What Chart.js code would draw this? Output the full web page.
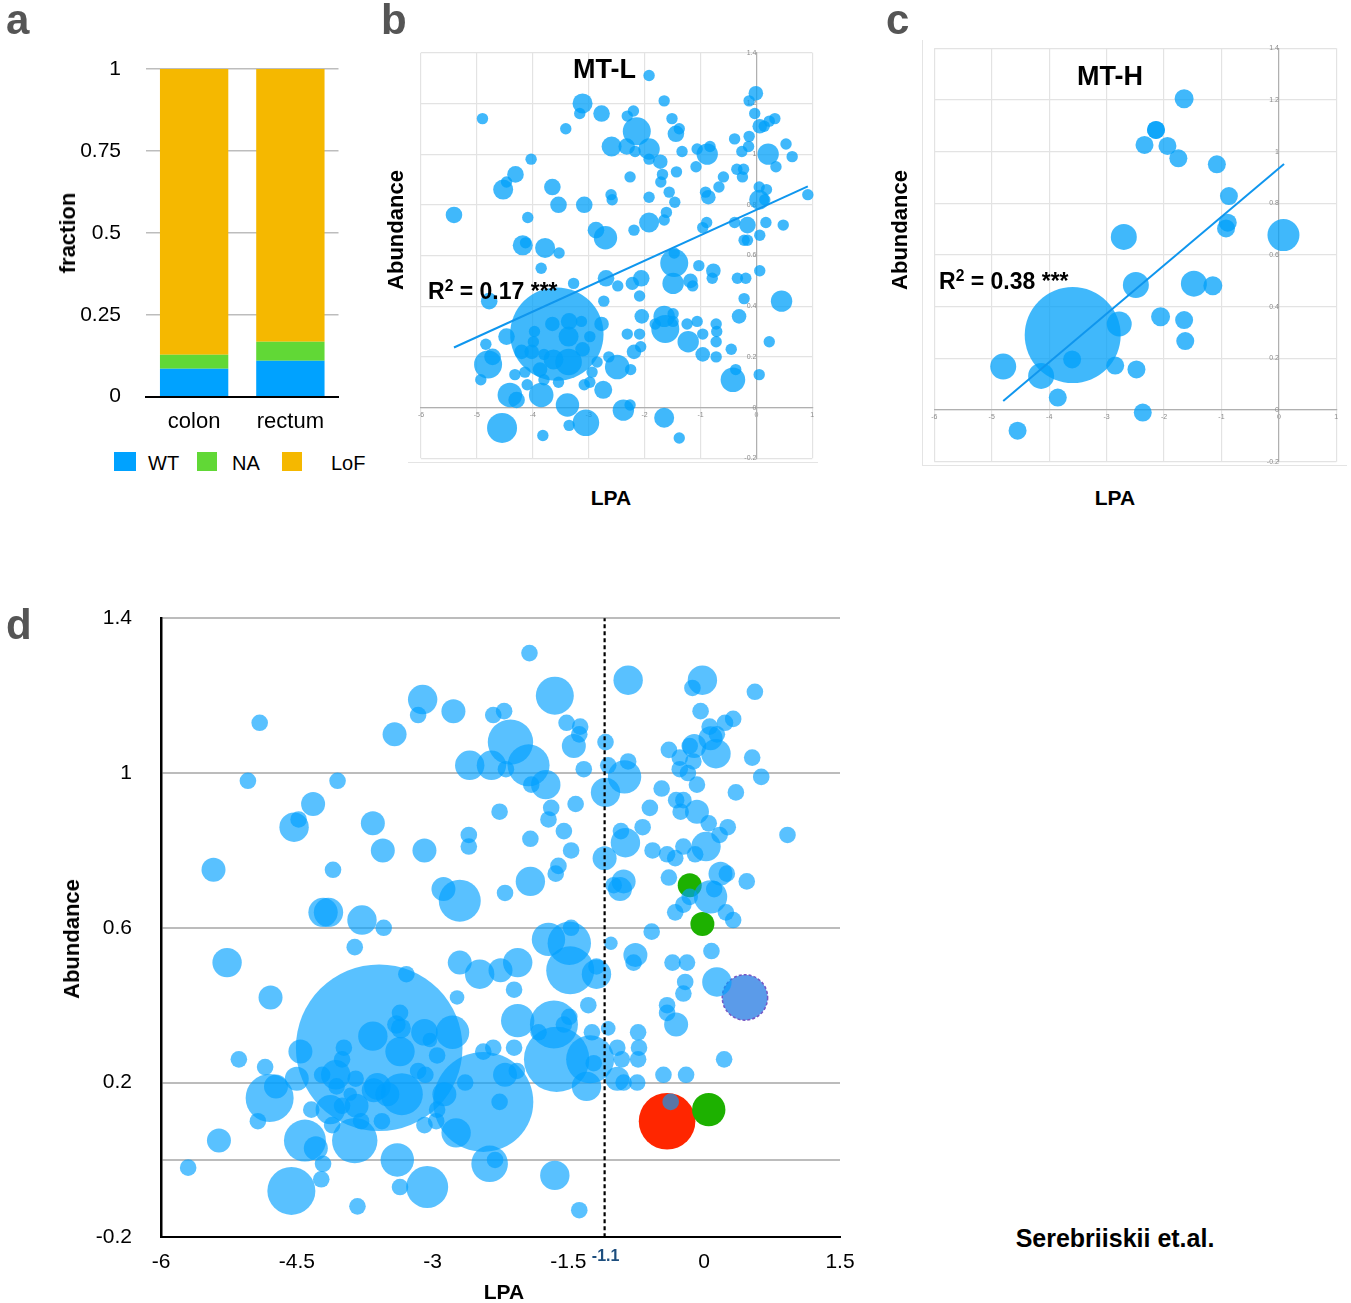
<!DOCTYPE html>
<html><head><meta charset="utf-8">
<script src="https://cdn.jsdelivr.net/npm/chart.js@4.4.1/dist/chart.umd.min.js"></script>
<style>
html,body{margin:0;padding:0;background:#fff;}
#page{position:relative;width:1351px;height:1303px;overflow:hidden;font-family:'Liberation Sans',Arial,Helvetica,sans-serif;color:#000;}
canvas{position:absolute;}
.t{position:absolute;white-space:nowrap;line-height:1;}
.c{transform:translate(-50%,-50%);}
.v{transform:translate(-50%,-50%) rotate(-90deg);}
.b{font-weight:bold;}
.panel{font-weight:bold;font-size:42px;color:#555;}
.sq{position:absolute;height:19px;}
.hl{position:absolute;background:#e4e4e4;}
sup{font-size:0.68em;line-height:0;vertical-align:0.5em;}
</style></head>
<body><div id="page">
<canvas id="ca" width="380" height="440" style="left:0;top:0"></canvas>
<canvas id="cb" width="460" height="480" style="left:380px;top:0"></canvas>
<canvas id="cc" width="471" height="480" style="left:880px;top:0"></canvas>
<canvas id="cd" width="880" height="733" style="left:0;top:570px"></canvas>

<div class="hl" style="left:408px;top:462px;width:410px;height:1px"></div>
<div class="hl" style="left:922px;top:40px;width:1px;height:425px"></div>
<div class="hl" style="left:922px;top:465px;width:425px;height:1px"></div>

<div class="t panel" style="left:6px;top:-1px">a</div>
<div class="t panel" style="left:381px;top:-1px">b</div>
<div class="t panel" style="left:886px;top:-1px">c</div>
<div class="t panel" style="left:6px;top:604px">d</div>

<div class="t v b" style="left:68px;top:233px;font-size:22px">fraction</div>
<div class="sq" style="left:114px;top:452px;width:22px;background:#00a2ff"></div>
<div class="sq" style="left:197px;top:452px;width:20px;background:#61d836"></div>
<div class="sq" style="left:282px;top:452px;width:20px;background:#f5b800"></div>
<div class="t" style="left:148px;top:453px;font-size:20px">WT</div>
<div class="t" style="left:232px;top:453px;font-size:20px">NA</div>
<div class="t" style="left:331px;top:453px;font-size:20px">LoF</div>

<div class="t b" style="left:573px;top:56px;font-size:27px">MT-L</div>
<div class="t b" style="left:1077px;top:63px;font-size:27px">MT-H</div>
<div class="t b" style="left:428px;top:280px;font-size:23px">R<sup>2</sup> = 0.17 ***</div>
<div class="t b" style="left:939px;top:270px;font-size:23px">R<sup>2</sup> = 0.38 ***</div>
<div class="t v b" style="left:396px;top:230px;font-size:22px">Abundance</div>
<div class="t v b" style="left:900px;top:230px;font-size:22px">Abundance</div>
<div class="t c b" style="left:611px;top:497px;font-size:21px">LPA</div>
<div class="t c b" style="left:1115px;top:497px;font-size:21px">LPA</div>

<div class="t v b" style="left:72px;top:939px;font-size:22px">Abundance</div>
<div class="t c b" style="left:504px;top:1291px;font-size:21px">LPA</div>
<div class="t c b" style="left:1115px;top:1238px;font-size:25px">Serebriiskii et.al.</div>
<div id="thr" class="t c b" style="font-size:16px;color:#1d4e7e">-1.1</div>
</div>
<script>
// ---------- panel a ----------
const aCategories = ['colon', 'rectum'];
const aWT  = [0.085, 0.110];
const aNA  = [0.043, 0.058];
const aLoF = [0.872, 0.832];
const aYTicks = [0, 0.25, 0.5, 0.75, 1];

// ---------- panel b (MT-L) ----------
const bX = [
 -1.92,-0.01,-0.13,-3.11,-3.16,-2.77,-1.65,-4.90,-3.41,-2.20,
 -2.31,-2.14,-1.51,-1.38,-1.44,-2.59,-2.32,-2.17,-1.92,-1.92,
 -1.72,-1.33,-1.06,-0.83,-0.88,-1.08,-0.39,-0.26,-0.14,-0.13,
 -0.03,0.06,0.14,0.23,0.33,0.21,0.53,0.64,0.35,-0.35,
 -0.23,-0.25,0.05,0.05,0.18,0.15,0.92,0.17,0.48,-0.16,
 -0.39,-0.22,-0.16,0.06,-0.59,-0.67,-0.91,-0.86,-0.96,-0.89,
 -1.03,-0.77,-0.79,-0.34,-0.19,0.06,-0.22,-0.31,0.45,0.23,
 -0.45,-0.37,-0.42,0.05,-0.72,-0.71,-0.72,-0.96,-0.96,-0.72,
 -1.06,-1.24,-1.22,-1.63,-1.65,-1.49,-1.49,-1.81,-1.47,-1.47,
 -1.49,-1.18,-1.14,-2.06,-2.22,-2.09,-2.05,-2.31,-2.09,-2.19,
 -2.07,-2.49,-2.25,-2.64,-2.73,-2.69,-2.48,-2.77,-2.74,-2.38,
 -2.26,-2.85,-2.94,-2.98,-3.08,-3.05,-3.38,-3.35,-3.82,-4.55,
 -1.65,-1.38,-3.85,-4.41,-4.29,-3.54,-4.10,-3.80,-4.32,-4.14,
 -4.93,-4.80,-4.72,-4.84,-4.47,-3.57,-3.97,-3.99,-4.20,-4.02,
 -3.80,-3.87,-3.65,-3.35,-3.36,-3.13,-2.98,-3.11,-3.63,-3.36,
 -3.27,-4.78,-3.85,-3.78,-3.53,-4.18,-4.13,-5.41,-4.09,-3.54,
 -3.08,-3.65,-4.53,-4.47,-4.31,-4.03,-2.87,-2.70,-2.60,-2.58,
 -2.19,-1.92,-1.65,-1.61,-1.92,-2.26,-1.68,-1.71,-1.43,-1.56,
 -1.46];
const bY = [
 1.31,1.24,1.21,1.20,1.16,1.16,1.21,1.14,1.10,1.17,
 1.15,1.09,1.14,1.10,1.08,1.03,1.03,1.01,1.02,0.98,
 0.97,1.01,1.02,1.03,1.00,0.95,1.06,1.01,1.03,1.07,
 1.16,1.11,1.11,1.13,1.14,1.00,1.04,0.99,0.95,0.94,
 0.94,0.91,0.87,0.82,0.86,0.82,0.84,0.73,0.72,0.72,
 0.73,0.66,0.66,0.68,0.91,0.87,0.85,0.83,0.71,0.73,
 0.56,0.54,0.51,0.51,0.51,0.54,0.43,0.36,0.42,0.26,
 0.23,0.15,0.11,0.13,0.33,0.30,0.26,0.29,0.21,0.20,
 0.34,0.33,0.26,0.31,0.36,0.37,0.34,0.33,0.57,0.61,
 0.49,0.50,0.48,0.51,0.49,0.44,0.36,0.29,0.29,0.22,
 0.24,0.16,0.15,0.20,0.42,0.51,0.48,0.33,0.07,-0.01,
 0.01,0.18,0.14,0.10,0.09,-0.06,0.01,-0.07,-0.11,-0.08,
 -0.04,-0.12,0.05,0.05,0.03,0.10,0.09,0.11,0.13,0.14,
 0.11,0.17,0.20,0.25,0.28,0.29,0.30,0.26,0.22,0.22,
 0.21,0.15,0.33,0.34,0.28,0.34,0.28,0.23,0.19,0.18,
 0.49,0.42,0.55,0.63,0.61,0.64,0.65,0.76,0.75,0.80,
 0.80,0.87,0.86,0.89,0.92,0.98,0.70,0.67,0.84,0.82,
 0.70,0.73,0.74,0.77,0.83,0.91,0.92,0.89,0.93,0.85,
 0.81];
const bR = [
 5.7,7.3,5.7,10,5.7,8.3,5.7,5.7,5.7,5.7,
 5.7,14,5.7,5.7,8.3,10,8.3,5.7,10.7,5.7,
 7.3,5.7,5.7,5.7,10.7,5.7,5.7,5.7,5.7,5.7,
 5.7,7.3,5.7,5.7,5.7,10.7,5.7,5.7,5.7,5.7,
 5.7,5.7,5.7,10,5.7,5.7,5.7,5.7,5.7,8.3,
 5.7,5.7,5.7,5.7,5.7,5.7,5.7,7.3,5.7,5.7,
 5.7,7.3,5.7,5.7,5.7,5.7,5.7,7.3,10.7,5.7,
 5.7,5.7,12.3,5.7,5.7,5.7,5.7,5.7,7.3,5.7,
 5.7,5.7,10.7,14,10.7,5.7,5.7,5.7,14,5.7,
 10.7,7.3,5.7,8.3,6.7,5.7,7.3,5.7,5.7,7.3,
 5.7,12.3,5.7,5.7,5.7,8.3,5.7,7.3,9,10.7,
 5.7,5.7,5.7,5.7,5.7,13.3,11.7,5.7,5.7,15,
 10,5.7,12.3,12.3,8.3,5.7,5.7,5.7,5.7,5.7,
 5.7,14,8.3,5.7,8.3,46.7,5.7,5.7,7.3,7.3,
 5.7,7.3,7.3,8.3,10,5.7,5.7,7.3,10,13.3,
 5.7,8.3,5.7,10,5.7,10,5.7,8.3,5.7,8.3,
 8.3,8.3,10,5.7,8.3,5.7,8.3,11.7,5.7,5.7,
 5.7,10,5.7,5.7,5.7,5.7,5.7,5.7,5.7,5.7,
 5.7];
const bTrendX = [-5.41, 0.92];
const bTrendY = [0.237, 0.873];

// ---------- panel c (MT-H) ----------
const cX = [-1.65,-2.14,-2.14,-2.34,-1.94,-1.75,-1.08,-0.87,-0.89,-0.92,
            -2.70,0.08,-2.49,-1.48,-1.15,-3.59,-2.78,-2.06,-1.65,-1.63,
            -3.60,-4.80,-4.14,-2.85,-2.48,-3.85,-2.37,-4.55];
const cY = [1.205,1.084,1.084,1.026,1.022,0.974,0.951,0.828,0.725,0.703,
            0.670,0.677,0.484,0.489,0.481,0.290,0.333,0.361,0.348,0.267,
            0.196,0.168,0.132,0.172,0.157,0.048,-0.010,-0.080];
const cR = [9.5,9,9,9,9,9,9,9,9,9,
            13,16,13,13,9.5,48,12.5,9.5,9,9,
            9,13,13,9,9,9,9,9];
const cTrendX = [-4.80, 0.09];
const cTrendY = [0.035, 0.952];

// shared small-panel ticks
const smallXTicks = [-6,-5,-4,-3,-2,-1,0,1];
const smallYTicks = [-0.2,0,0.2,0.4,0.6,0.8,1,1.2,1.4];

// ---------- panel d ----------
const dX = [
 -1.93,-1.65,-0.84,-0.02,-0.13,0.56,-4.91,-3.11,-3.16,-2.77,
 -2.33,-2.21,-2.14,-3.42,-1.52,-1.37,-1.38,-1.44,-1.09,-0.04,
 0.32,0.23,0.06,0.14,0.07,-0.11,-0.16,0.13,-0.39,-0.27,
 -0.12,0.53,-2.59,-2.35,-2.19,-1.94,-1.91,-1.75,-1.33,-1.06,
 -0.84,-0.88,-1.09,-0.27,-0.18,-0.08,0.63,-0.47,0.35,-5.04,
 -4.05,-4.32,-4.53,-4.48,-3.66,-3.55,-3.09,-2.60,-2.60,-2.26,
 -1.69,-1.72,-1.42,-0.60,-0.31,-0.23,-0.26,-0.08,-0.68,-0.92,
 -0.87,0.05,0.26,0.17,0.02,0.92,-1.92,-1.55,-1.47,-0.57,
 -0.41,-0.32,-0.23,-0.10,-1.10,-1.61,-1.64,-1.92,-2.20,-5.42,
 -4.10,-2.88,-2.70,-4.21,-4.15,-3.78,-3.54,-0.89,-0.93,-1.00,
 -0.39,-0.16,0.07,0.18,0.25,0.11,0.47,-0.32,-0.23,0.24,
 0.32,-0.58,-1.03,-0.76,-0.78,-1.72,-1.49,-1.48,-1.47,-1.19,
 -1.19,-2.70,-2.48,-2.25,-2.06,-2.10,-2.73,-1.28,-2.06,-1.66,
 -1.49,-1.63,-1.83,-1.55,-1.24,-1.06,-1.26,-1.30,-1.22,-0.96,
 -0.91,-0.96,-0.89,-0.74,-0.73,-0.72,-0.73,-0.45,-0.20,0.22,
 -0.41,-0.41,-0.31,-0.35,-0.19,-0.21,-0.23,0.08,0.14,-0.37,
 -2.64,-2.26,-2.20,-2.44,-2.33,-2.10,-2.07,-2.37,-2.31,-2.74,
 -1.65,-1.38,-3.86,-5.27,-4.79,-3.29,-3.59,-3.36,-3.40,-3.35,
 -3.66,-3.09,-2.78,-3.03,-3.36,-2.95,-3.98,-4.00,-4.46,-5.14,
 -4.85,-3.16,-3.08,-2.44,-4.22,-4.07,-3.85,-4.50,-4.73,-4.80,
 -3.61,-3.65,-3.34,-3.50,-4.06,-3.91,-3.84,-4.13,-4.34,-4.00,
 -4.93,-4.11,-3.79,-3.56,-3.09,-2.96,-2.95,-2.87,-5.36,-4.41,
 -4.29,-4.21,-3.86,-3.39,-5.70,-4.23,-4.56,-3.36,-3.06,-3.83];
const dY = [
 1.31,1.20,1.24,1.24,1.22,1.21,1.13,1.19,1.15,1.16,
 1.15,1.16,1.08,1.10,1.13,1.12,1.10,1.07,1.08,1.16,
 1.14,1.13,1.12,1.10,1.09,1.07,1.07,1.05,1.06,1.04,
 1.03,1.04,1.02,1.02,1.01,1.02,0.97,0.97,1.01,1.02,
 1.03,0.99,0.95,1.01,1.00,0.97,0.99,0.96,0.95,0.98,
 0.98,0.92,0.86,0.88,0.87,0.80,0.80,0.84,0.81,0.90,
 0.91,0.88,0.92,0.91,0.93,0.93,0.90,0.90,0.86,0.85,
 0.82,0.87,0.86,0.84,0.81,0.84,0.83,0.85,0.80,0.80,
 0.79,0.78,0.81,0.79,0.78,0.76,0.74,0.72,0.69,0.75,
 0.75,0.70,0.67,0.64,0.64,0.62,0.60,0.72,0.70,0.71,
 0.73,0.68,0.68,0.74,0.74,0.70,0.72,0.64,0.66,0.64,
 0.62,0.59,0.56,0.53,0.51,0.57,0.56,0.49,0.60,0.48,
 0.50,0.51,0.48,0.49,0.51,0.44,0.42,0.40,0.36,0.35,
 0.37,0.26,0.33,0.35,0.33,0.34,0.26,0.19,0.25,0.29,
 0.26,0.21,0.20,0.20,0.33,0.29,0.26,0.22,0.22,0.26,
 0.40,0.38,0.35,0.51,0.51,0.46,0.43,0.54,0.46,0.15,
 0.20,0.15,0.22,0.28,0.29,0.29,0.23,-0.01,0.00,0.07,
 -0.04,-0.13,0.55,0.51,0.42,0.48,0.29,0.38,0.35,0.34,
 0.32,0.33,0.33,0.31,0.28,0.27,0.29,0.26,0.28,0.26,
 0.24,0.23,0.22,0.15,0.22,0.22,0.21,0.21,0.19,0.16,
 0.19,0.18,0.17,0.17,0.19,0.17,0.14,0.13,0.13,0.14,
 0.10,0.09,0.10,0.10,0.09,0.10,0.13,0.17,0.05,0.05,
 0.03,-0.01,0.05,0.00,-0.02,-0.05,-0.08,-0.07,-0.07,-0.12];
const dR = [
 8.3,19,14.7,14.7,8.3,8.3,8.3,14.7,8.3,12,
 8.3,8.3,22.7,12,8.3,8.3,8.3,12,8.3,8.3,
 8.3,8.3,8.3,8.3,12,12,8.3,14.7,8.3,8.3,
 8.3,8.3,14.7,14.7,8.3,21,8.3,14.7,8.3,8.3,
 8.3,16.7,14.7,8.3,8.3,8.3,8.3,8.3,8.3,8.3,
 8.3,12,14.7,8.3,12,12,12,8.3,8.3,8.3,
 8.3,8.3,8.3,8.3,8.3,8.3,8.3,12,8.3,8.3,
 14.7,8.3,8.3,8.3,14.7,8.3,8.3,8.3,8.3,8.3,
 8.3,8.3,8.3,8.3,12,8.3,8.3,14.7,8.3,12,
 8.3,12,21,14.7,14.7,14.7,8.3,12,12,8.3,
 8.3,8.3,16.7,12,8.3,8.3,8.3,8.3,8.3,8.3,
 8.3,8.3,6.7,12,8.3,16.7,21.7,24,8.3,14.7,
 8.3,12,14.7,12,14.7,8.3,7.3,8.3,16.7,24,
 8.3,32.7,8.3,8.3,8.3,7.3,24,14.7,8.3,8.3,
 8.3,12,8.3,8.3,8.3,8.3,8.3,8.3,8.3,8.3,
 8.3,8.3,12,8.3,8.3,8.3,8.3,8.3,14.7,8.3,
 8.3,8.3,12,8.3,8.3,8.3,8.3,18.3,8.3,14.7,
 14.7,8.3,8.3,14.7,12,8.3,83.3,8.3,9.3,10,
 14.7,13.3,16.7,7.3,14.7,8.3,8.3,8.3,12,8.3,
 8.3,8.3,8.3,50,8.3,14.7,8.3,12,12,24,
 13.3,12,21,12,8.3,6.7,12,14.7,8.3,8.3,
 8.3,8.3,8.3,8.3,8.3,8.3,8.3,12,12,21,
 12,8.3,22.7,16.7,8.3,8.3,24,8.3,21,8.3];
const dGreenX = [-0.16, -0.02, 0.05];
const dGreenY = [0.71, 0.61, 0.13];
const dGreenR = [12, 12, 16.7];
const dRedX = [-0.41];
const dRedY = [0.10];
const dRedR = [28.3];
const dMarkX = [0.45];
const dMarkY = [0.42];
const dMarkR = [22.7];
const dThreshold = -1.1;
const dXTicks = [-6, -4.5, -3, -1.5, 0, 1.5];
const dYTicks = [-0.2, 0, 0.2, 0.6, 1, 1.4];

// ---------- helpers ----------
Chart.defaults.font.family = "'Liberation Sans', Arial, Helvetica, sans-serif";
Chart.defaults.color = '#000';
const pts = (xs, ys, rs) => xs.map((x, i) => ({x: x, y: ys[i], r: rs[i]}));
const seg = (xs, ys) => xs.map((x, i) => ({x: x, y: ys[i]}));
const base = {responsive: false, animation: false, devicePixelRatio: 1, events: [],
  plugins: {legend: {display: false}, tooltip: {enabled: false}}};

// ---------- chart a ----------
new Chart(document.getElementById('ca'), {
  type: 'bar',
  data: {labels: aCategories, datasets: [
    {label: 'WT', data: aWT, backgroundColor: '#00a2ff'},
    {label: 'NA', data: aNA, backgroundColor: '#61d836'},
    {label: 'LoF', data: aLoF, backgroundColor: '#f5b800'}]},
  options: Object.assign({}, base, {
    layout: {autoPadding: false, padding: {left: 0, top: 69, right: 41.5, bottom: 0}},
    datasets: {bar: {barPercentage: 1, categoryPercentage: 0.71, borderWidth: 0}},
    scales: {
      x: {stacked: true, grid: {display: false, drawTicks: false},
          border: {display: true, color: '#000', width: 2},
          ticks: {font: {size: 22}, padding: 12, color: '#000'},
          afterFit: s => { s.height = 43.3; }},
      y: {stacked: true, min: 0, max: 1,
          afterBuildTicks: s => { s.ticks = aYTicks.map(v => ({value: v})); },
          ticks: {callback: v => String(v), font: {size: 21}, padding: 25, color: '#000'},
          grid: {color: '#bdbdbd', lineWidth: 1.5, drawTicks: false},
          border: {display: false},
          afterFit: s => { s.width = 146; }}
    }
  })
});

// ---------- charts b, c ----------
function smallPanel(id, xs, ys, rs, tx, ty, pad) {
  return new Chart(document.getElementById(id), {
    type: 'bubble',
    data: {datasets: [
      {type: 'line', data: seg(tx, ty), borderColor: '#0f96ee', borderWidth: 2,
       pointRadius: 0, fill: false, clip: false},
      {data: pts(xs, ys, rs), backgroundColor: 'rgba(0,160,250,0.75)',
       borderWidth: 0, clip: false}]},
    options: Object.assign({}, base, {
      layout: {autoPadding: false, padding: pad},
      scales: {
        x: {type: 'linear', min: smallXTicks[0], max: smallXTicks[smallXTicks.length - 1],
            position: {y: 0},
            afterBuildTicks: s => { s.ticks = smallXTicks.map(v => ({value: v})); },
            afterFit: s => { s.height = 0; },
            grid: {color: '#e3e3e3', lineWidth: 1.2, drawTicks: false},
            border: {color: '#b0b0b0', width: 1.2},
            ticks: {callback: v => String(v), font: {size: 7}, color: '#8a8a8a', padding: 3}},
        y: {type: 'linear', min: smallYTicks[0], max: smallYTicks[smallYTicks.length - 1],
            position: {x: 0},
            afterBuildTicks: s => { s.ticks = smallYTicks.map(v => ({value: v})); },
            afterFit: s => { s.width = 0; },
            grid: {color: '#e3e3e3', lineWidth: 1.2, drawTicks: false},
            border: {color: '#b0b0b0', width: 1.2},
            ticks: {callback: v => String(v), font: {size: 7}, color: '#8a8a8a', padding: 3}}
      }
    })
  });
}
smallPanel('cb', bX, bY, bR, bTrendX, bTrendY, {left: 41, right: 27.7, top: 52.7, bottom: 21.7});
smallPanel('cc', cX, cY, cR, cTrendX, cTrendY, {left: 54.3, right: 14.7, top: 48.3, bottom: 18.3});

// ---------- chart d ----------
const dashBorder = {
  id: 'dashBorder',
  beforeDatasetDraw(chart, args) {
    if (chart.data.datasets[args.index].dashedBorder) chart.ctx.setLineDash([3, 2]);
  },
  afterDatasetDraw(chart) { chart.ctx.setLineDash([]); }
};
const dTop = 570;
const chartD = new Chart(document.getElementById('cd'), {
  type: 'bubble',
  data: {datasets: [
    {type: 'line', data: [{x: dThreshold, y: dYTicks[0]}, {x: dThreshold, y: dYTicks[dYTicks.length - 1]}],
     borderColor: '#000', borderWidth: 2.2, borderDash: [4, 3], pointRadius: 0, fill: false, clip: false},
    {data: pts(dX, dY, dR), backgroundColor: 'rgba(0,160,255,0.65)', borderWidth: 0, clip: false},
    {data: pts(dGreenX, dGreenY, dGreenR), backgroundColor: '#1db100', borderWidth: 0, clip: false},
    {data: pts(dRedX, dRedY, dRedR), backgroundColor: '#ff2600', borderWidth: 0, clip: false},
    {data: pts(dMarkX, dMarkY, dMarkR), backgroundColor: '#5b9be9', borderColor: '#7557c4',
     borderWidth: 1.5, dashedBorder: true, clip: false}]},
  options: Object.assign({}, base, {
    layout: {autoPadding: false, padding: {left: 0, top: 48.3, right: 40, bottom: 0}},
    scales: {
      x: {type: 'linear', min: dXTicks[0], max: dXTicks[dXTicks.length - 1], position: 'bottom',
          afterBuildTicks: s => { s.ticks = dXTicks.map(v => ({value: v})); },
          afterFit: s => { s.height = 65.7; },
          grid: {display: false, drawTicks: false},
          border: {color: '#000', width: 2},
          ticks: {callback: v => String(v), font: {size: 21}, color: '#000', padding: 12}},
      y: {type: 'linear', min: dYTicks[0], max: dYTicks[dYTicks.length - 1], position: 'left',
          afterBuildTicks: s => { s.ticks = dYTicks.map(v => ({value: v})); },
          afterFit: s => { s.width = 161; },
          grid: {color: '#bcbcbc', lineWidth: 2, drawTicks: false},
          border: {color: '#000', width: 2.5},
          ticks: {callback: v => (v === 0 ? '' : String(v)), font: {size: 21}, color: '#000', padding: 29}}
    }
  }),
  plugins: [dashBorder]
});
const thr = document.getElementById('thr');
thr.style.left = (chartD.scales.x.getPixelForValue(dThreshold) + 1) + 'px';
thr.style.top = (dTop + chartD.chartArea.bottom + 19) + 'px';
</script>
</body></html>
